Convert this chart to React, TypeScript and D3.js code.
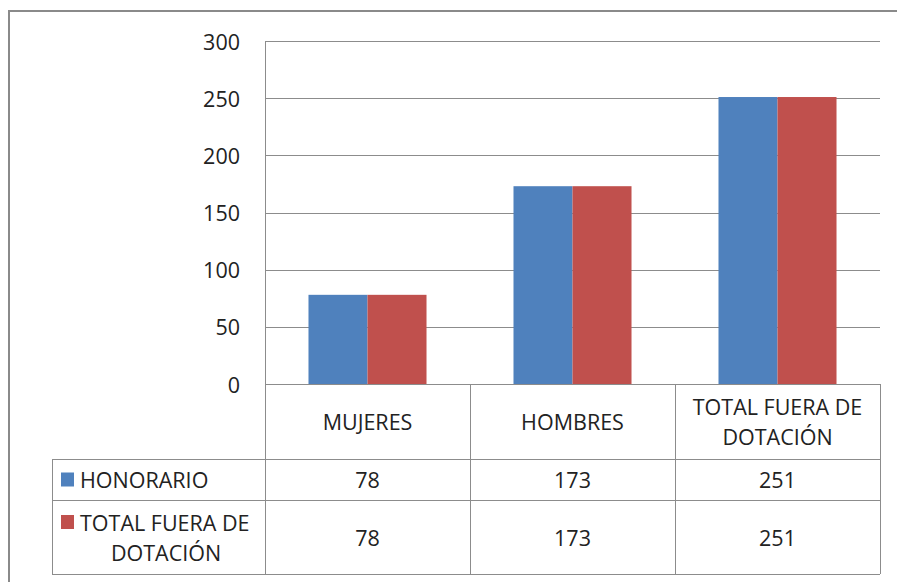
import React from 'react';
import * as d3 from 'd3';

// datos del gráfico
const categories = ['MUJERES', 'HOMBRES', 'TOTAL FUERA DE DOTACIÓN'];
const categoryLines = [['MUJERES'], ['HOMBRES'], ['TOTAL FUERA DE', 'DOTACIÓN']];
const seriesNames = ['HONORARIO', 'TOTAL FUERA DE DOTACIÓN'];
const seriesLines = [['HONORARIO'], ['TOTAL FUERA DE', 'DOTACIÓN']];
const honorario = [78, 173, 251];
const totalFuera = [78, 173, 251];
const yTicks = [0, 50, 100, 150, 200, 250, 300];
const colors = ['#4F81BD', '#C0504D'];

const W = 897;
const H = 582;
const FONT = "'Open Sans', sans-serif";
const FS = 21.5;
const LINE = '#8c8c8c';

const App = () => {
  const left = 265;
  const right = 880;
  const top = 41;
  const bottom = 384;
  const legendLeft = 52;
  const rowBottoms = [459, 500, 574];

  const x0 = d3.scaleBand<string>().domain(categories).range([left, right]).paddingInner(0).paddingOuter(0);
  const x1 = d3.scaleBand<string>().domain(seriesNames).range([0, x0.bandwidth()]).paddingOuter(0.737).paddingInner(0);
  const y = d3.scaleLinear().domain([0, 300]).range([bottom, top]);

  const series = [honorario, totalFuera];

  const rowTops = [bottom, rowBottoms[0], rowBottoms[1]];
  const rowMid = (i: number) => (rowTops[i] + rowBottoms[i]) / 2;

  return (
    <svg width={W} height={H} style={{ position: 'absolute', left: 0, top: 0, background: 'white' }}
      fontFamily={FONT} fontSize={FS} fill="#222">
      {/* marco exterior */}
      <path d={`M9,${H + 5} V11 H${W + 5}`} fill="none" stroke="#8a8a8a" strokeWidth={2} />

      {/* líneas de división */}
      {yTicks.map(t => (
        <line key={t} x1={left} x2={right} y1={Math.round(y(t)) + 0.5} y2={Math.round(y(t)) + 0.5} stroke={LINE} strokeWidth={1} />
      ))}
      {yTicks.map(t => (
        <text key={'l' + t} x={240} y={y(t)} textAnchor="end" dominantBaseline="central">{t}</text>
      ))}

      {/* barras */}
      {series.map((vals, si) => vals.map((v, ci) => (
        <rect key={`${si}-${ci}`} x={x0(categories[ci])! + x1(seriesNames[si])!} y={y(v)}
          width={x1.bandwidth()} height={y(0) - y(v)} fill={colors[si]} />
      )))}

      {/* tabla de datos */}
      <line x1={left + 0.5} x2={left + 0.5} y1={top} y2={rowBottoms[2]} stroke={LINE} />
      {categories.map((c, i) => (
        <line key={'v' + c} x1={x0(c)! + x0.bandwidth() + 0.5} x2={x0(c)! + x0.bandwidth() + 0.5}
          y1={bottom} y2={rowBottoms[2]} stroke={LINE} />
      ))}
      <line x1={legendLeft + 0.5} x2={legendLeft + 0.5} y1={rowBottoms[0]} y2={rowBottoms[2]} stroke={LINE} />
      {rowBottoms.map(rb => (
        <line key={'h' + rb} x1={legendLeft} x2={right} y1={rb + 0.5} y2={rb + 0.5} stroke={LINE} />
      ))}

      {categoryLines.map((lines, i) => {
        const cx = x0(categories[i])! + x0.bandwidth() / 2;
        const mid = rowMid(0);
        return lines.map((ln, j) => (
          <text key={`c${i}-${j}`} x={cx} y={mid + (j - (lines.length - 1) / 2) * 30}
            textAnchor="middle" dominantBaseline="central">{ln}</text>
        ));
      })}

      {seriesLines.map((lines, si) => {
        const mid = rowMid(si + 1);
        const y0 = mid - (lines.length - 1) / 2 * 30;
        return (
          <g key={'s' + si}>
            <rect x={61} y={y0 - 7} width={13} height={14} fill={colors[si]} />
            {lines.map((ln, j) => (
              <text key={j} x={j === 0 ? 80 : 166} y={y0 + j * 30}
                textAnchor={j === 0 ? 'start' : 'middle'} dominantBaseline="central">{ln}</text>
            ))}
            {series[si].map((v, ci) => (
              <text key={'v' + ci} x={x0(categories[ci])! + x0.bandwidth() / 2} y={mid}
                textAnchor="middle" dominantBaseline="central">{v}</text>
            ))}
          </g>
        );
      })}
    </svg>
  );
};

export default App;
